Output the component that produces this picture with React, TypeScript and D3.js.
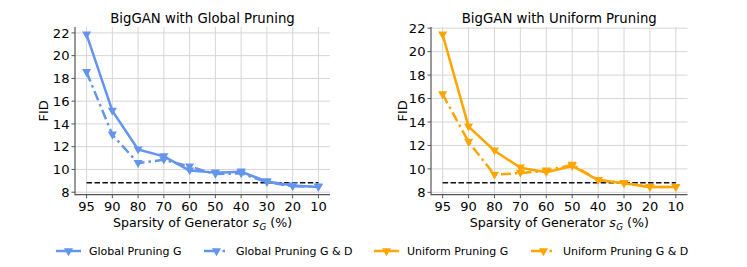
import React, { useEffect, useRef } from 'react';
import * as d3 from 'd3';

// sparsity of generator, %
const sparsity = ['95', '90', '80', '70', '60', '50', '40', '30', '20', '10'];

const globalG = [21.85, 15.15, 11.75, 11.15, 9.9, 9.72, 9.8, 8.95, 8.58, 8.45];
const globalGD = [18.55, 13.05, 10.55, 10.85, 10.25, 9.6, 9.65, 8.88, 8.52, 8.5];
const uniformG = [21.45, 13.6, 11.55, 10.1, 9.72, 10.25, 9.05, 8.78, 8.45, 8.45];
const uniformGD = [16.35, 12.3, 9.5, 9.65, 9.85, 10.35, 9.05, 8.78, 8.45, 8.45];

const denseFID = 8.82;
const yTicks = [8, 10, 12, 14, 16, 18, 20, 22];

const BLUE = '#6495ED';
const ORANGE = '#FFA500';
const FONT = 'DejaVu Sans, sans-serif';

const App: React.FC = () => {
  const ref = useRef<SVGSVGElement | null>(null);

  useEffect(() => {
    if (!ref.current) return;
    document.body.style.margin = '0';
    const svg = d3.select(ref.current);
    svg.selectAll('*').remove();

    const top = 27, bottom = 194.7;

    const panels = [
      { title: 'BigGAN with Global Pruning', color: BLUE, solid: globalG, dashdot: globalGD, x0: 75, x1: 330, labelX: 43 },
      { title: 'BigGAN with Uniform Pruning', color: ORANGE, solid: uniformG, dashdot: uniformGD, x0: 431, x1: 687.5, labelX: 402 },
    ];

    const tri = d3.symbol().type(d3.symbolTriangle).size(36);

    panels.forEach(p => {
      const g = svg.append('g');
      const xs = d3.scaleLinear().domain([-0.45, 9.45]).range([p.x0, p.x1]);
      const xp = (s: string) => xs(sparsity.indexOf(s));
      const all = p.solid.concat(p.dashdot);
      const [mn, mx] = d3.extent(all) as [number, number];
      const pad = (mx - mn) * 0.05;
      const y = d3.scaleLinear().domain([mn - pad, mx + pad]).range([bottom, top]);

      // grid
      g.selectAll('.vg').data(sparsity).enter().append('line')
        .attr('x1', d => xp(d)).attr('x2', d => xp(d))
        .attr('y1', top).attr('y2', bottom)
        .attr('stroke', '#d6d6d6').attr('stroke-width', 1);
      g.selectAll('.hg').data(yTicks).enter().append('line')
        .attr('x1', p.x0).attr('x2', p.x1)
        .attr('y1', d => y(d)).attr('y2', d => y(d))
        .attr('stroke', '#d6d6d6').attr('stroke-width', 1);

      // spines
      g.append('line').attr('x1', p.x0).attr('x2', p.x0).attr('y1', top).attr('y2', bottom + 0.5)
        .attr('stroke', '#555').attr('stroke-width', 1.2);
      g.append('line').attr('x1', p.x0).attr('x2', p.x1).attr('y1', bottom).attr('y2', bottom)
        .attr('stroke', '#555').attr('stroke-width', 1.2);

      // ticks + labels
      g.selectAll('.yt').data(yTicks).enter().append('line')
        .attr('x1', p.x0 - 3.5).attr('x2', p.x0)
        .attr('y1', d => y(d)).attr('y2', d => y(d))
        .attr('stroke', '#555');
      g.selectAll('.ytl').data(yTicks).enter().append('text')
        .attr('x', p.x0 - 5.5).attr('y', d => y(d)).attr('dy', '0.36em')
        .attr('text-anchor', 'end').attr('font-family', FONT).attr('font-size', 13.1)
        .text(d => d);
      g.selectAll('.xt').data(sparsity).enter().append('line')
        .attr('x1', d => xp(d)).attr('x2', d => xp(d))
        .attr('y1', bottom).attr('y2', bottom + 3.5)
        .attr('stroke', '#555');
      g.selectAll('.xtl').data(sparsity).enter().append('text')
        .attr('x', d => xp(d)).attr('y', 211)
        .attr('text-anchor', 'middle').attr('font-family', FONT).attr('font-size', 13)
        .text(d => d);

      // title
      g.append('text').attr('x', (p.x0 + p.x1) / 2).attr('y', 23)
        .attr('text-anchor', 'middle').attr('font-family', FONT).attr('font-size', 13.3)
        .text(p.title);

      // x label, pieces measured and laid out side by side
      const pieces = [
        { t: 'Sparsity of Generator', size: 12.6, italic: false, dy: 0, gap: 4 },
        { t: 's', size: 12.6, italic: true, dy: 0, gap: 0.5 },
        { t: 'G', size: 8.8, italic: true, dy: 3, gap: 4 },
        { t: '(%)', size: 12.6, italic: false, dy: 0, gap: 0 },
      ];
      const nodes = pieces.map(pc => g.append('text')
        .attr('y', 226.5 + pc.dy).attr('font-family', FONT).attr('font-size', pc.size)
        .attr('font-style', pc.italic ? 'italic' : 'normal').text(pc.t));
      const widths = nodes.map(n => (n.node() as SVGTextElement).getComputedTextLength());
      const total = d3.sum(widths) + d3.sum(pieces, pc => pc.gap);
      let cx = (p.x0 + p.x1) / 2 - total / 2;
      nodes.forEach((n, i) => {
        n.attr('x', cx);
        cx += widths[i] + pieces[i].gap;
      });

      g.append('text').attr('transform', `translate(${p.labelX},${(top + bottom) / 2}) rotate(-90)`)
        .attr('text-anchor', 'middle').attr('dy', '0.36em')
        .attr('font-family', FONT).attr('font-size', 13.1).text('FID');

      // dense baseline
      g.append('line').attr('x1', xp('95')).attr('x2', xp('10'))
        .attr('y1', y(denseFID)).attr('y2', y(denseFID))
        .attr('stroke', '#111').attr('stroke-width', 1.5).attr('stroke-dasharray', '5.5,2.4');

      const line = d3.line<number>().x((_, i) => xp(sparsity[i])).y(d => y(d));
      [
        { data: p.dashdot, dash: '10,4,2.5,4' },
        { data: p.solid, dash: null },
      ].forEach(s => {
        g.append('path').datum(s.data).attr('d', line)
          .attr('fill', 'none').attr('stroke', p.color).attr('stroke-width', 2.5)
          .attr('stroke-linejoin', 'round')
          .attr('stroke-dasharray', s.dash);
        g.selectAll(null).data(s.data).enter().append('path')
          .attr('d', tri)
          .attr('transform', (d, i) => `translate(${xp(sparsity[i])},${y(d) - 0.5}) rotate(180)`)
          .attr('fill', p.color);
      });
    });

    // legend
    const legend = [
      { label: 'Global Pruning G', color: BLUE, dash: false, x: 56 },
      { label: 'Global Pruning G & D', color: BLUE, dash: true, x: 204 },
      { label: 'Uniform Pruning G', color: ORANGE, dash: false, x: 374 },
      { label: 'Uniform Pruning G & D', color: ORANGE, dash: true, x: 531 },
    ];
    const ly = 251;
    legend.forEach(l => {
      const g = svg.append('g');
      if (l.dash) {
        g.append('line').attr('x1', l.x).attr('x2', l.x + 14).attr('y1', ly).attr('y2', ly)
          .attr('stroke', l.color).attr('stroke-width', 2.5);
        g.append('line').attr('x1', l.x + 18.5).attr('x2', l.x + 21).attr('y1', ly).attr('y2', ly)
          .attr('stroke', l.color).attr('stroke-width', 2.5);
      } else {
        g.append('line').attr('x1', l.x).attr('x2', l.x + 25).attr('y1', ly).attr('y2', ly)
          .attr('stroke', l.color).attr('stroke-width', 2.5);
      }
      g.append('path').attr('d', tri)
        .attr('transform', `translate(${l.x + 12.5},${ly}) rotate(180)`).attr('fill', l.color);
      g.append('text').attr('x', l.x + (l.dash ? 32 : 33)).attr('y', ly).attr('dy', '0.35em')
        .attr('font-family', FONT).attr('font-size', 11).text(l.label);
    });
  }, []);

  return <svg ref={ref} width={747} height={267} style={{ display: 'block' }} />;
};

export default App;
